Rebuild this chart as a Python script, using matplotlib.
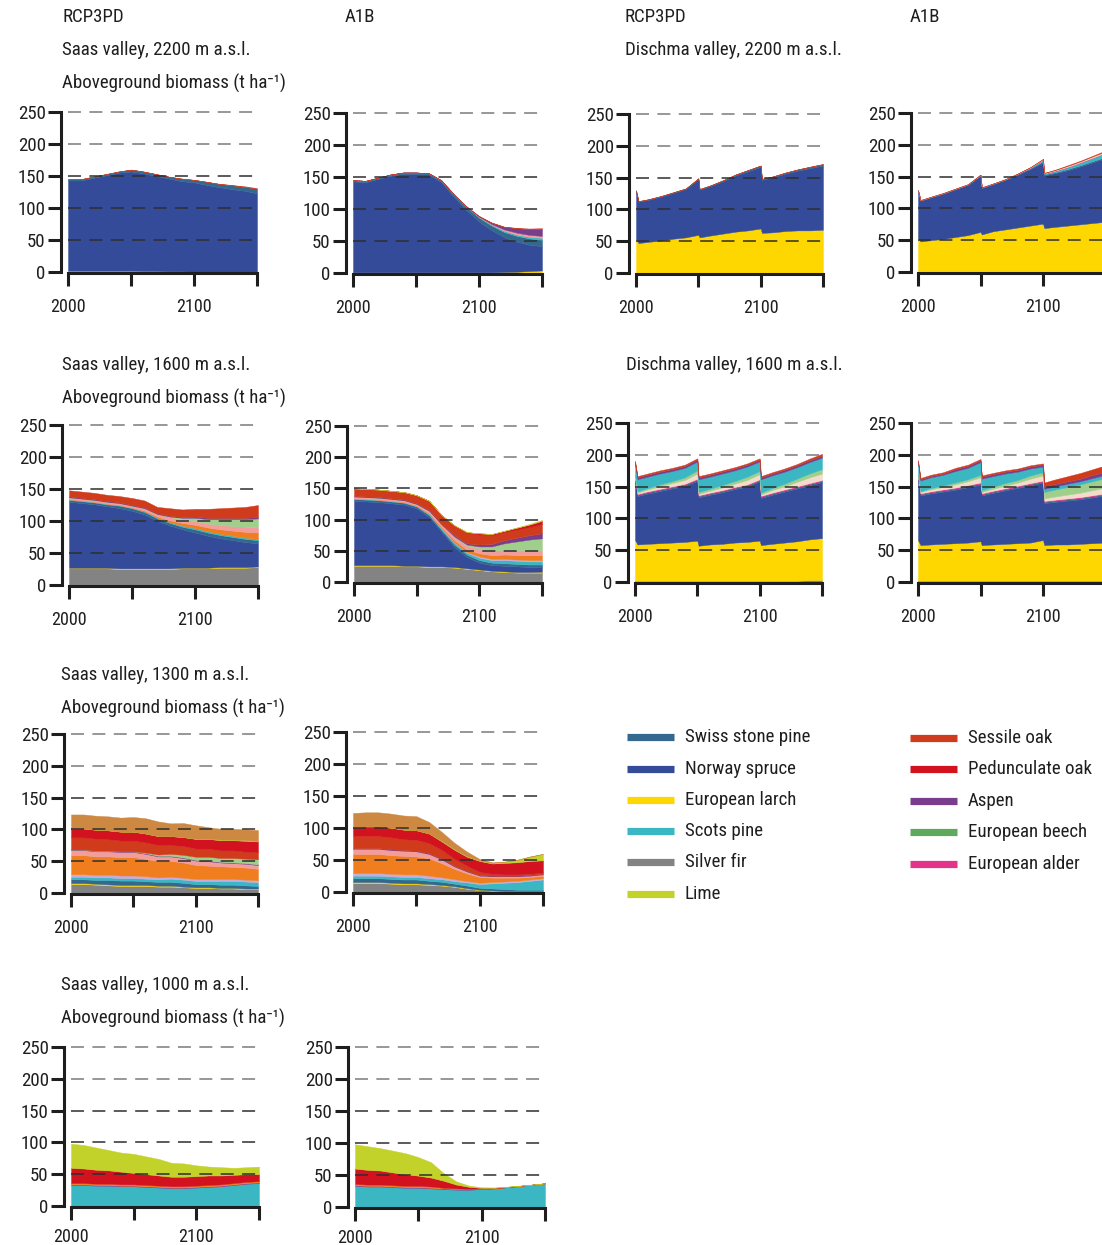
import matplotlib
matplotlib.use("Agg")
import matplotlib.pyplot as plt
from matplotlib import font_manager as fm
from matplotlib.lines import Line2D

W, H = 1102, 1245

# ---------------------------------------------------------------- fonts
_names = {f.name for f in fm.fontManager.ttflist}
if "Liberation Sans Narrow" in _names:
    FONT = "Liberation Sans Narrow"
elif "Roboto Condensed" in _names:
    FONT = "Roboto Condensed"
else:
    FONT = "DejaVu Sans"
FAMILY = [FONT, "DejaVu Sans"]
INK = "#1e1e1e"
TEXT_SIZE = 13.6
XTICK_SIZE = 13
YTICK_SIZE = 13.6

# ---------------------------------------------------------------- colours
COLORS = {
    "Swiss stone pine": "#34688f",
    "Norway spruce": "#334b99",
    "European larch": "#ffd700",
    "Scots pine": "#3bb7c3",
    "Silver fir": "#838383",
    "Lime": "#c3d22b",
    "Sessile oak": "#d03b1c",
    "Pedunculate oak": "#d2121f",
    "Aspen": "#783d8d",
    "European beech": "#5ea95e",
    "European alder": "#e3338b",
    "Sycamore maple": "#f07e1f",
    "Ash": "#f29c9c",
    "Birch": "#a0cf8b",
    "Rowan": "#c7abd8",
    "Sweet chestnut": "#cd8842",
    "Mountain pine": "#f3dccb",
}

LEGEND_LEFT = ["Swiss stone pine", "Norway spruce", "European larch",
               "Scots pine", "Silver fir", "Lime"]
LEGEND_RIGHT = ["Sessile oak", "Pedunculate oak", "Aspen",
                "European beech", "European alder"]

# ---------------------------------------------------------------- time axes
SAAS_YEARS = [2000, 2010, 2020, 2030, 2040, 2050, 2060, 2070,
              2080, 2090, 2100, 2110, 2120, 2130, 2140, 2150]
DISCHMA_YEARS = [2000, 2002, 2010, 2020, 2030, 2040, 2050, 2051, 2060, 2070,
                 2080, 2090, 2100, 2101, 2110, 2120, 2130, 2140, 2150]

# ---------------------------------------------------------------- Saas valley, 2200 m
SAAS_2200_RCP3PD = [
    ("European larch", [2, 2, 2, 2, 2, 2, 1.5, 1.5, 1, 1, 0.5, 0.5, 0.5, 0.5, 0.5, 0.5]),
    ("Norway spruce", [141, 141, 145, 149, 153, 155, 152.5, 148.5, 145, 141, 139.5, 135.5, 132, 129, 126.5, 122.5]),
    ("Swiss stone pine", [2, 2, 2, 2, 2, 3, 3, 3, 3, 4, 4, 5, 5, 6, 6, 7]),
    ("Sessile oak", [0, 0, 0, 0, 0, 0, 0, 0, 0, 0, 0, 0, 0.5, 0.5, 1, 1]),
]
SAAS_2200_A1B = [
    ("European larch", [1, 1, 1, 1, 1, 1, 1, 1, 1, 1, 1, 1, 1.5, 2, 3, 4]),
    ("Norway spruce", [142, 141, 146, 151, 154, 154, 153, 141, 118, 97.5, 79.5, 66, 54.5, 47, 41, 38]),
    ("Swiss stone pine", [2, 2, 2, 2, 2, 2, 2, 3, 4, 5, 6, 7, 8, 9, 10, 10]),
    ("Scots pine", [0, 0, 0, 0, 0, 0, 0, 0, 0, 0.5, 1, 1.5, 2, 2, 2.5, 3]),
    ("Ash", [0, 0, 0, 0, 0, 0, 0, 0, 0, 0, 0.5, 1, 2, 3, 3, 3]),
    ("Aspen", [0, 0, 0, 0, 0, 0, 0, 0, 0, 0, 1, 2, 4, 7, 9, 11]),
    ("Sessile oak", [0, 0, 0, 0, 0, 0, 0, 0, 0, 0, 0, 0.5, 0.5, 0.5, 1, 1]),
]

# ---------------------------------------------------------------- Saas valley, 1600 m
SAAS_1600_RCP3PD = [
    ("Silver fir", [26, 26, 26, 26, 25, 25, 25, 25, 25, 26, 26, 26, 27, 27, 27, 28]),
    ("European larch", [1, 1, 1, 1, 1, 1, 1, 1, 1, 1, 1, 1, 1, 1, 1, 1]),
    ("Norway spruce", [103, 101, 99, 96, 94, 90, 84, 74, 67, 60, 55, 50, 45, 42, 39, 36]),
    ("Swiss stone pine", [3, 3, 3, 3, 4, 4, 4, 4, 4, 4, 5, 5, 5, 5, 5, 5]),
    ("Scots pine", [1, 1, 1, 1, 1, 1, 1, 1, 1, 2, 2, 2, 2, 2, 2, 2]),
    ("Sycamore maple", [0, 0, 0, 0, 0, 0, 1, 2, 3, 4, 5, 6, 7, 8, 9, 10]),
    ("Ash", [3, 3, 3, 3, 3, 3, 4, 4, 5, 5, 6, 6, 7, 7, 8, 8]),
    ("Birch", [0, 0, 0, 0, 0, 0, 0, 0, 1, 3, 5, 7, 9, 11, 12, 14]),
    ("Aspen", [1, 1, 1, 1, 1, 1, 1, 1, 1, 1, 2, 2, 2, 2, 2, 2]),
    ("Sessile oak", [10, 10, 10, 10, 10, 11, 11, 10, 12, 12, 12, 14, 15, 16, 17, 19]),
]
SAAS_1600_A1B = [
    ("Silver fir", [26, 26, 26, 26, 25, 25, 24, 24, 23, 21, 19, 17, 16, 15, 15, 15]),
    ("European larch", [1, 1, 1, 1, 1, 1, 1, 1, 1, 1, 1, 1, 1, 1, 1, 1.5]),
    ("Norway spruce", [103, 102, 101, 99, 98, 92, 79, 55, 32, 18, 11, 9, 9, 9, 8, 7.5]),
    ("Swiss stone pine", [3, 3, 3, 3, 3, 3, 3, 3, 4, 4, 4, 4, 4, 4, 4, 4]),
    ("Scots pine", [1, 1, 1, 1, 1, 1, 2, 2, 3, 3, 4, 4, 5, 5, 5, 5]),
    ("Rowan", [0, 0, 0, 0, 0, 0, 0, 1, 1, 1, 2, 2, 2, 2, 2, 2]),
    ("Sycamore maple", [0, 0, 0, 0, 0, 0, 1, 2, 3, 4, 5, 6, 7, 7, 8, 8]),
    ("Ash", [3, 3, 3, 3, 3, 3, 4, 4, 5, 6, 7, 7, 8, 8, 8, 8]),
    ("Birch", [0, 0, 0, 0, 0, 0, 0, 0, 1, 2, 4, 7, 10, 14, 17, 19]),
    ("Aspen", [1, 1, 1, 1, 1, 1, 1, 1, 2, 2, 3, 4, 5, 6, 7, 8]),
    ("Sessile oak", [12, 12, 12, 12, 12, 13, 15, 14, 15, 17, 16, 14, 13, 13, 13, 15]),
    ("Pedunculate oak", [0, 0, 0, 0, 0, 0, 0, 0, 1, 1, 2, 2, 2, 3, 4, 5]),
    ("Lime", [0, 0, 0, 0, 0, 0, 0, 0, 0, 0, 0, 0, 0, 0.5, 1, 1.5]),
]

# ---------------------------------------------------------------- Saas valley, 1300 m
SAAS_1300_RCP3PD = [
    ("Silver fir", [14, 14, 13, 12, 11, 11, 11, 10, 10, 9, 8, 8, 7, 7, 6, 6]),
    ("European larch", [1.5, 1.5, 1.5, 1.5, 1.5, 1.5, 1.5, 1.5, 1.5, 1, 1, 1, 1, 1, 1, 1]),
    ("Swiss stone pine", [6, 6, 6, 7, 7, 7, 6, 6, 6, 6, 5, 5, 5, 5, 5, 4]),
    ("Scots pine", [4, 4, 4, 4, 4, 4, 4, 4, 5, 5, 5, 5, 6, 6, 6, 6]),
    ("Rowan", [4, 4, 4, 4, 4, 4, 4, 3, 3, 3, 3, 3, 3, 3, 3, 3]),
    ("Sycamore maple", [30, 30, 29, 29, 29, 29, 27, 26, 25, 24, 22, 21, 20, 19, 19, 18]),
    ("Ash", [8, 8, 8, 8, 8, 8, 8, 7, 7, 7, 7, 7, 6, 6, 6, 6]),
    ("Aspen", [1, 1, 1, 1, 1, 1, 1, 1, 1, 1, 1, 1, 1, 1, 1, 1]),
    ("Birch", [0, 0, 0, 0, 0, 0, 1, 2, 3, 4, 5, 6, 6, 7, 7, 8]),
    ("Sessile oak", [19, 19, 19, 18, 17, 17, 16, 15, 14, 14, 13, 13, 12, 12, 11, 11]),
    ("Pedunculate oak", [14, 14, 14, 14, 14, 14, 14, 14, 14, 14, 15, 15, 16, 16, 17, 17]),
    ("Lime", [0, 0, 0, 0, 0, 0, 0, 0, 0, 0, 0.5, 0.5, 1, 1, 1, 1]),
    ("Sweet chestnut", [22, 22, 22, 22, 22, 23, 24, 23, 20, 22, 21, 18, 17, 17, 17, 17]),
]
SAAS_1300_A1B = [
    ("Silver fir", [14, 14, 14, 13, 12, 12, 11, 10, 8, 5, 3, 2, 1, 1, 1, 1]),
    ("European larch", [1.5, 1.5, 1.5, 1.5, 1.5, 1.5, 1.5, 1, 1, 1, 0.5, 0.5, 0.5, 0.5, 0.5, 0.5]),
    ("Swiss stone pine", [6, 6, 6, 6, 6, 6, 5, 5, 4, 4, 3, 3, 3, 2, 2, 2]),
    ("Scots pine", [4, 4, 4, 4, 4, 4, 4, 4, 4, 5, 6, 8, 10, 12, 14, 16]),
    ("Rowan", [4, 4, 4, 4, 4, 4, 4, 3, 3, 2, 2, 2, 2, 2, 2, 2]),
    ("Sycamore maple", [30, 30, 30, 29, 29, 28, 27, 22, 16, 12, 9, 7, 6, 5, 4, 4]),
    ("Ash", [8, 8, 8, 8, 8, 8, 7, 6, 4, 3, 2, 2, 2, 2, 2, 2]),
    ("Aspen", [1, 1, 1, 1, 1, 1, 1, 1, 1, 1, 1, 1, 1, 1, 1, 1]),
    ("Sessile oak", [19, 19, 19, 19, 17, 17, 16, 14, 11, 8, 5, 3, 2, 2, 2, 2]),
    ("Pedunculate oak", [14, 15, 15, 15, 15, 15, 15, 13, 14, 14, 17, 16, 18, 19, 20, 19]),
    ("Lime", [0, 0, 0, 0, 0, 0, 0, 1, 1, 1, 1, 1, 2, 4, 7, 10]),
    ("Sweet chestnut", [22, 22, 22, 22, 22, 22, 18, 14, 10, 7, 2, 1, 0, 0, 0, 0]),
]

# ---------------------------------------------------------------- Saas valley, 1000 m
SAAS_1000_RCP3PD = [
    ("Scots pine", [33, 33, 32, 32, 31, 31, 30, 29, 28, 28, 29, 30, 31, 33, 35, 36]),
    ("Aspen", [1, 1, 1, 1, 1, 1, 1, 1, 1, 1, 1, 1, 1, 1, 1, 1]),
    ("Sycamore maple", [2, 2, 2, 2, 2, 2, 2, 2, 2, 2, 2, 2, 2, 2, 2, 2]),
    ("Pedunculate oak", [24, 23, 22, 21, 20, 18, 17, 16, 15, 15, 15, 15, 14, 13, 12, 11]),
    ("Lime", [38, 37, 35, 32, 30, 30, 28, 26, 22, 21, 17, 14, 13, 11, 11, 12]),
]
SAAS_1000_A1B = [
    ("Scots pine", [33, 32, 32, 31, 30, 30, 29, 28, 27, 27, 28, 29, 31, 33, 35, 37]),
    ("Aspen", [1, 1, 1, 1, 1, 1, 1, 1, 1, 0.5, 0.3, 0.2, 0, 0, 0, 0]),
    ("Sycamore maple", [2, 2, 2, 2, 2, 2, 2, 1, 1, 1, 0.5, 0.3, 0.2, 0, 0, 0]),
    ("Pedunculate oak", [24, 23, 22, 20, 18, 16, 14, 11, 6, 3, 1, 0.5, 0.3, 0.2, 0, 0]),
    ("Lime", [38, 37, 35, 34, 33, 29, 24, 12, 5, 2, 1, 0.5, 0.3, 0.2, 0, 0]),
]

# ---------------------------------------------------------------- Dischma valley, 2200 m
DISCHMA_2200_RCP3PD = [
    ("European larch", [54, 47, 49, 51, 54, 56, 60, 56, 59, 62, 65, 67, 70, 63, 64, 66, 67, 67, 68]),
    ("Norway spruce", [75, 65, 66, 69, 72, 76, 87.5, 75, 78, 82.5, 88.5, 93, 97, 83.5, 86.5, 90.5, 94, 98, 101]),
    ("Swiss stone pine", [1, 1, 1, 1, 1, 1, 1.5, 1, 1, 1.5, 1.5, 2, 2, 1.5, 1.5, 1.5, 2, 2, 2]),
    ("Sessile oak", [0, 0, 0, 0, 0, 0, 0, 0, 0, 0, 0, 0, 0, 0, 0, 0, 0, 0.5, 0.5]),
]
DISCHMA_2200_A1B = [
    ("European larch", [54, 48, 50, 52, 55, 58, 63, 59, 64, 67, 70, 73, 76, 69, 71, 73, 75, 77, 79]),
    ("Norway spruce", [74, 64, 67, 71, 75, 79, 88.5, 73, 74, 78, 83, 89, 96, 83, 84.5, 87, 91, 95.5, 100]),
    ("Swiss stone pine", [1, 1, 1, 1, 1, 1, 1.5, 1, 1, 1, 1.5, 1.5, 2, 1.5, 1.5, 2, 2, 2, 2]),
    ("Scots pine", [0, 0, 0, 0, 0, 0, 0, 0, 0, 0, 0.5, 1, 2, 1, 2, 3, 4, 5, 6]),
    ("European alder", [0, 0, 0, 0, 0, 0, 0, 0, 0, 0, 0, 0, 0.5, 0.5, 0.5, 0.5, 0.5, 0.5, 0.5]),
    ("Mountain pine", [0, 0, 0, 0, 0, 0, 0, 0, 0, 0, 0, 0.5, 1, 0.5, 1, 1.5, 1.5, 2, 2]),
    ("Sessile oak", [0, 0, 0, 0, 0, 0, 0, 0, 0, 0, 0, 0, 0.5, 0.5, 0.5, 1, 1, 1, 1.5]),
]

# ---------------------------------------------------------------- Dischma valley, 1600 m
DISCHMA_1600_RCP3PD = [
    ("Silver fir", [2, 2, 2, 2, 2, 2, 2, 2, 2, 2, 2, 2, 2, 2, 2, 2, 2, 3, 3]),
    ("European larch", [64, 57, 58, 59, 60, 61, 63, 55, 57, 58, 60, 61, 63, 56, 58, 60, 62, 64, 66]),
    ("Norway spruce", [94, 76, 79, 82, 85, 88, 94, 76, 78, 81, 84, 87, 93, 74, 77, 80, 83, 85, 88]),
    ("Swiss stone pine", [2, 2, 2, 2, 2, 2, 2, 2, 2, 2, 2, 2, 2, 2, 2, 2, 2, 2, 2]),
    ("European alder", [1.5, 1.5, 1.5, 1.5, 1.5, 1.5, 1.5, 1.5, 1.5, 1.5, 1.5, 1.5, 1.5, 1.5, 1.5, 1.5, 1.5, 1.5, 1.5]),
    ("Mountain pine", [3, 2, 3, 4, 5, 6, 8, 2, 3, 4, 5, 7, 8, 2, 4, 5, 7, 9, 10]),
    ("Birch", [2, 2, 2, 3, 3, 4, 5, 3, 3, 4, 4, 5, 5, 3, 3, 4, 5, 6, 7]),
    ("Scots pine", [17, 19, 18, 17, 16, 15, 14, 20, 19, 18, 17, 16, 15, 21, 20, 19, 18, 18, 18]),
    ("Aspen", [3, 3, 3, 3, 3, 3, 3, 3, 3, 3, 3, 3, 3, 3, 3, 3, 3, 3, 3]),
    ("Sessile oak", [2, 2, 2, 2, 2, 2, 2, 2, 2, 2, 2, 2, 2, 2, 2, 2, 2, 2.5, 3]),
]
DISCHMA_1600_A1B = [
    ("Silver fir", [2, 2, 2, 2, 2, 2, 2, 2, 2, 2, 2, 2, 2, 2, 2, 2, 2, 2, 2]),
    ("European larch", [64, 56, 57, 58, 59, 60, 62, 56, 57, 58, 59, 60, 64, 56, 57, 57, 58, 59, 60]),
    ("Norway spruce", [97, 78, 80, 82, 84, 87, 89, 78, 81, 84, 87, 90, 90, 66, 67, 69, 70, 72, 74]),
    ("Swiss stone pine", [2, 2, 2, 2, 2, 2, 2, 2, 2, 2, 2, 2, 2, 2, 2, 2, 2, 2, 2]),
    ("European alder", [1.5, 1.5, 1.5, 1.5, 1.5, 1.5, 1.5, 1.5, 1.5, 1.5, 1.5, 1.5, 1.5, 1.5, 1.5, 1.5, 1.5, 1.5, 1.5]),
    ("Mountain pine", [2, 2, 3, 4, 5, 6, 8, 2, 3, 4, 5, 7, 8, 4, 5, 6, 7, 8, 9]),
    ("Birch", [1, 1, 2, 2, 3, 3, 4, 3, 3, 4, 4, 5, 5, 10, 11, 12, 13, 14, 15]),
    ("Scots pine", [18, 17, 17, 17, 18, 18, 20, 18, 17, 15, 13, 11, 9, 5, 5, 5, 5, 5, 5]),
    ("Aspen", [2, 2, 2, 2, 3, 3, 3, 3, 3, 3, 3, 3, 3, 4, 4, 4, 4, 5, 5]),
    ("Sessile oak", [2, 2, 2, 2, 2, 2, 2, 2, 2, 2, 2, 2, 2, 6, 7, 8, 9, 9, 10]),
]

# ---------------------------------------------------------------- axis settings
Y_TICKS = [0, 50, 100, 150, 200, 250]
X_TICKS = [2000, 2050, 2100, 2150]
X_TICK_LABELS = ["2000", "", "2100", ""]

fig = plt.figure(figsize=(W / 100, H / 100), dpi=100)
fig.patch.set_facecolor("white")


def ftext(x, y, s, size=TEXT_SIZE):
    fig.text(x / W, 1 - y / H, s, ha="left", va="center", fontsize=size,
             family=FAMILY, color=INK)


def panel(px_left, px_right, px_zero, px_top, years, layers, xpad=8):
    ax = fig.add_axes([px_left / W, 1 - px_zero / H,
                       (px_right - px_left) / W, (px_zero - px_top) / H])
    ax.patch.set_visible(False)
    ax.stackplot(years, *[v for _, v in layers],
                 colors=[COLORS[s] for s, _ in layers],
                 linewidth=0.3, edgecolor="face", zorder=1)
    for lvl in Y_TICKS[1:]:
        c = "#7a7a7a" if lvl >= 200 else "#2e2e2e"
        ax.axhline(lvl, color=c, lw=1.1, dashes=(8.5, 5.5), zorder=3,
                   clip_on=False)
    ax.set_xlim(2000, 2150)
    ax.set_ylim(0, 250)
    ax.spines["top"].set_visible(False)
    ax.spines["right"].set_visible(False)
    for side in ("left", "bottom"):
        ax.spines[side].set_linewidth(2.2)
        ax.spines[side].set_color(INK)
    ax.spines["left"].set_position(("outward", 5))
    ax.spines["left"].set_bounds(0, 250)
    ax.spines["bottom"].set_position(("outward", 1))
    ax.spines["bottom"].set_bounds(2000, 2150)
    ax.set_xticks(X_TICKS)
    ax.set_xticklabels(X_TICK_LABELS)
    ax.set_yticks(Y_TICKS)
    ax.set_yticklabels([str(t) for t in Y_TICKS])
    ax.tick_params(axis="both", length=9.5, width=2.2, color=INK,
                   labelcolor=INK)
    ax.tick_params(axis="y", pad=1.5)
    ax.tick_params(axis="x", pad=xpad)
    for lab in ax.get_xticklabels():
        lab.set_family(FAMILY)
        lab.set_fontsize(XTICK_SIZE)
    for lab in ax.get_yticklabels():
        lab.set_family(FAMILY)
        lab.set_fontsize(YTICK_SIZE)
    return ax


# ---------------------------------------------------------------- headings
ftext(62, 17, "RCP3PD")
ftext(345, 17, "A1B")
ftext(625, 17, "RCP3PD")
ftext(910, 17, "A1B")

ftext(62, 50, "Saas valley, 2200 m a.s.l.")
ftext(625, 50, "Dischma valley, 2200 m a.s.l.")
ftext(62, 83, "Aboveground biomass (t ha\u207b\u00b9)")

ftext(62, 365, "Saas valley, 1600 m a.s.l.")
ftext(626, 365, "Dischma valley, 1600 m a.s.l.")
ftext(62, 398, "Aboveground biomass (t ha\u207b\u00b9)")

ftext(61, 675, "Saas valley, 1300 m a.s.l.")
ftext(61, 708, "Aboveground biomass (t ha\u207b\u00b9)")

ftext(61, 985, "Saas valley, 1000 m a.s.l.")
ftext(61, 1018, "Aboveground biomass (t ha\u207b\u00b9)")

# ---------------------------------------------------------------- panels
panel(68, 257, 272, 112, SAAS_YEARS, SAAS_2200_RCP3PD)
panel(353, 542, 273, 113, SAAS_YEARS, SAAS_2200_A1B)
panel(636, 823, 273, 114, DISCHMA_YEARS, DISCHMA_2200_RCP3PD)
panel(918, 1105.5, 272, 113, DISCHMA_YEARS, DISCHMA_2200_A1B)

panel(69, 258, 585, 425, SAAS_YEARS, SAAS_1600_RCP3PD)
panel(354, 542, 582, 426, SAAS_YEARS, SAAS_1600_A1B)
panel(635, 822, 582, 423, DISCHMA_YEARS, DISCHMA_1600_RCP3PD)
panel(918, 1105.5, 582, 423, DISCHMA_YEARS, DISCHMA_1600_A1B)

panel(71, 258, 893, 734, SAAS_YEARS, SAAS_1300_RCP3PD)
panel(353, 543, 892, 732, SAAS_YEARS, SAAS_1300_A1B)

panel(71, 259, 1206, 1047, SAAS_YEARS, SAAS_1000_RCP3PD, xpad=5.5)
panel(355, 545, 1207, 1047, SAAS_YEARS, SAAS_1000_A1B, xpad=5.5)

# ---------------------------------------------------------------- legend
def legend_column(x_line, x_text, y_rows, names):
    for y, name in zip(y_rows, names):
        fig.add_artist(Line2D([x_line / W, (x_line + 47) / W],
                              [1 - y / H, 1 - y / H],
                              color=COLORS[name], lw=5.2,
                              solid_capstyle="butt",
                              transform=fig.transFigure))
        ftext(x_text, y, name)


legend_column(627, 685, [737, 769, 800, 831, 862, 894], LEGEND_LEFT)
legend_column(910, 968, [738, 769, 801, 832, 864], LEGEND_RIGHT)

fig.savefig("out.png", dpi=100, facecolor="white")
